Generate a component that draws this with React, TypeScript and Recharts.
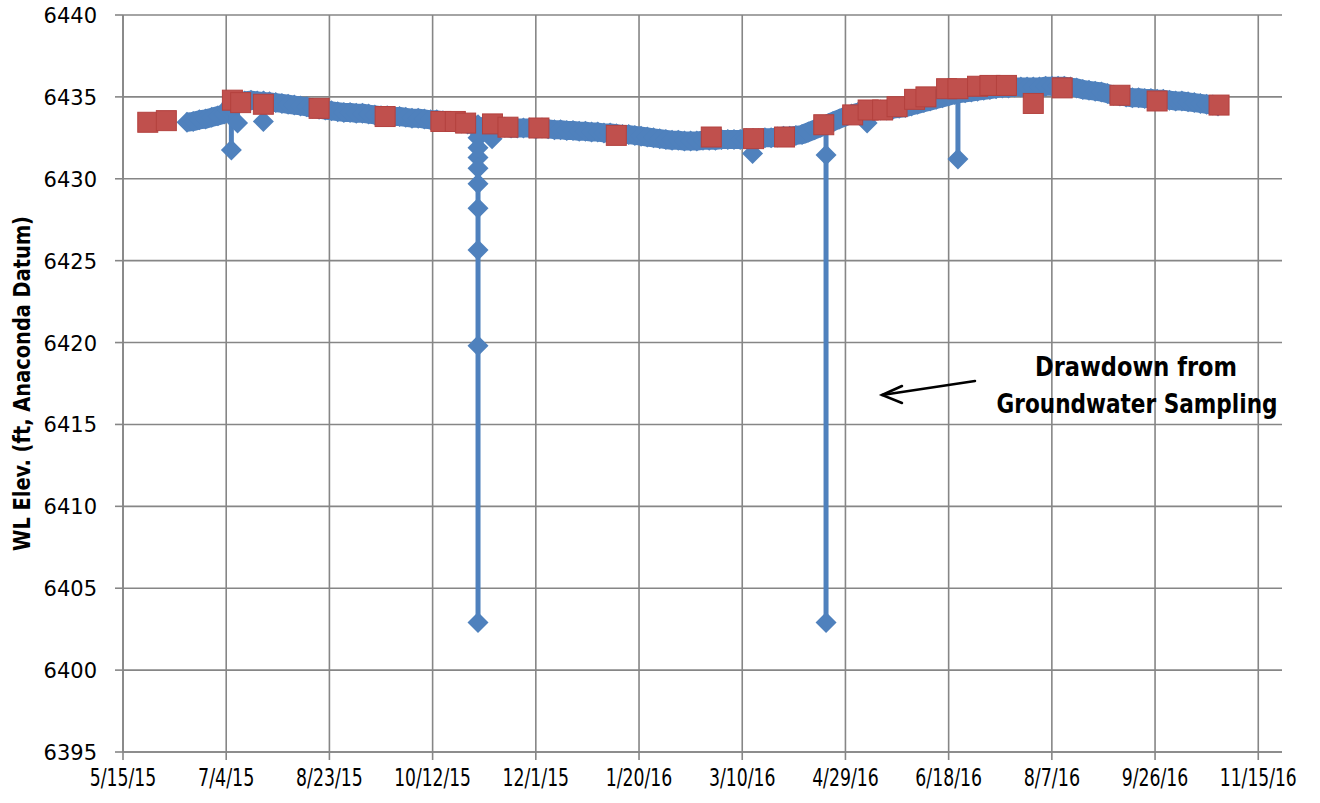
import React from 'react';
import { ScatterChart, Scatter, XAxis, YAxis, CartesianGrid } from 'recharts';

// x values are days since 5/15/15
const xTickDays = [0, 50, 100, 150, 200, 250, 300, 350, 400, 450, 500, 550];
const xTickLabels = ['5/15/15', '7/4/15', '8/23/15', '10/12/15', '12/1/15', '1/20/16', '3/10/16', '4/29/16', '6/18/16', '8/7/16', '9/26/16', '11/15/16'];
const yTicks = [6395, 6400, 6405, 6410, 6415, 6420, 6425, 6430, 6435, 6440];

// Transducer (logger) record, routine readings
const loggerDays = [
  31, 34, 37, 40, 43, 46, 49, 51, 53, 56, 59, 62, 65, 68.5, 71, 74, 77, 80, 83, 86, 89, 92, 95, 98,
  101, 104, 107, 110, 113, 116, 119, 122, 125, 128, 131, 134, 137, 140, 143, 146, 149, 152, 155, 158, 161, 164, 167, 170,
  172.3, 175, 179, 182, 185, 188, 191, 194, 197, 200,
  203, 206, 209, 212, 215, 218, 221, 224, 227, 230, 233, 236, 239, 242, 245, 248, 251, 254, 257, 260,
  263, 266, 269, 272, 275, 278, 281, 284, 287, 290, 293, 296, 299, 302, 305.5, 308, 311, 314, 317, 320,
  323, 326, 329, 332, 335, 338, 341, 344, 347, 350, 353, 356, 359, 361, 364, 367, 370,
  373, 376, 379, 382, 385, 388, 391, 394, 397, 400, 403, 405, 408, 411, 414, 417, 420, 423, 426, 429,
  432, 435, 438, 441, 444, 447, 450, 453, 456, 459, 462, 465, 468, 471, 474, 477, 480, 483, 486, 489, 492, 495, 498,
  501, 504, 507, 510, 513, 516, 519, 522, 525, 528, 530.5,
];
const loggerElev = [
  6433.45, 6433.5, 6433.6, 6433.65, 6433.75, 6433.85, 6433.95, 6434.2, 6434.6, 6434.7, 6434.75, 6434.8, 6434.75, 6434.7, 6434.7, 6434.65, 6434.6, 6434.55, 6434.5, 6434.45, 6434.4, 6434.3, 6434.25, 6434.2,
  6434.15, 6434.1, 6434.05, 6434.05, 6434.0, 6434.0, 6433.95, 6433.9, 6433.85, 6433.85, 6433.8, 6433.8, 6433.75, 6433.7, 6433.7, 6433.65, 6433.6, 6433.6, 6433.55, 6433.5, 6433.45, 6433.4, 6433.35, 6433.3,
  6433.0, 6433.2, 6433.2, 6433.15, 6433.15, 6433.1, 6433.1, 6433.1, 6433.1, 6433.05,
  6433.1, 6433.05, 6433.0, 6433.0, 6432.95, 6432.95, 6432.9, 6432.9, 6432.85, 6432.85, 6432.8, 6432.8, 6432.75, 6432.7, 6432.7, 6432.65, 6432.6, 6432.55, 6432.5, 6432.45,
  6432.4, 6432.35, 6432.35, 6432.3, 6432.3, 6432.3, 6432.35, 6432.35, 6432.35, 6432.4, 6432.4, 6432.4, 6432.4, 6432.45, 6432.45, 6432.45, 6432.5, 6432.5, 6432.55, 6432.6,
  6432.6, 6432.65, 6432.7, 6432.85, 6433.0, 6433.15, 6433.3, 6433.5, 6433.65, 6433.8, 6433.95, 6434.05, 6434.1, 6434.1, 6434.15, 6434.2, 6434.2,
  6434.25, 6434.3, 6434.35, 6434.45, 6434.55, 6434.65, 6434.75, 6434.85, 6434.95, 6435.05, 6435.15, 6435.2, 6435.25, 6435.3, 6435.35, 6435.4, 6435.45, 6435.5, 6435.55, 6435.55,
  6435.6, 6435.6, 6435.6, 6435.6, 6435.6, 6435.65, 6435.65, 6435.65, 6435.65, 6435.6, 6435.55, 6435.45, 6435.4, 6435.35, 6435.3, 6435.2, 6435.1, 6435.05, 6435.0, 6434.95, 6434.95, 6434.9, 6434.9,
  6434.85, 6434.85, 6434.8, 6434.75, 6434.75, 6434.7, 6434.65, 6434.6, 6434.55, 6434.5, 6434.45,
];

// Logger readings during drawdown / sampling events (event id, day, elevation)
const eventIds = [1, 1, 2, 2, 3, 3, 4, 4, 4, 4, 4, 4, 4, 4, 4, 4, 5, 5, 6, 6, 7, 7, 7, 8, 8, 9, 9];
const eventDays = [52.5, 52.5, 55.5, 55.5, 68, 68, 172, 172, 172, 172, 172, 172, 172, 172, 172, 172, 178.8, 178.8, 305, 305, 340.6, 340.6, 340.6, 360.5, 360.5, 404.5, 404.5];
const eventElev = [6434.3, 6431.75, 6434.7, 6433.4, 6434.75, 6433.5, 6433.3, 6432.5, 6431.9, 6431.3, 6430.65, 6429.7, 6428.2, 6425.65, 6419.8, 6402.9, 6433.2, 6432.45, 6432.45, 6431.55, 6433.2, 6431.45, 6402.9, 6434.1, 6433.4, 6435.2, 6431.2];

// Manual water-level measurements
const manualDays = [12, 21, 53, 57, 68, 95, 127, 154, 161, 166, 179, 186.5, 201.5, 239, 285, 305.5, 320.5, 339.5, 353.5, 361, 368, 375, 383.5, 389, 399, 404.5, 414, 420, 428, 441, 455, 483, 501, 531];
const manualElev = [6433.45, 6433.55, 6434.8, 6434.65, 6434.55, 6434.3, 6433.8, 6433.5, 6433.5, 6433.4, 6433.35, 6433.15, 6433.1, 6432.65, 6432.55, 6432.45, 6432.55, 6433.3, 6433.9, 6434.2, 6434.2, 6434.4, 6434.85, 6435.0, 6435.5, 6435.5, 6435.65, 6435.7, 6435.7, 6434.6, 6435.55, 6435.1, 6434.75, 6434.5];

const loggerData = loggerDays.map((d, i) => ({ x: d, y: loggerElev[i] }));
const manualData = manualDays.map((d, i) => ({ x: d, y: manualElev[i] }));
const eventGroups: { x: number; y: number }[][] = [];
eventIds.forEach((id, i) => {
  if (!eventGroups[id]) eventGroups[id] = [];
  eventGroups[id].push({ x: eventDays[i], y: eventElev[i] });
});
const events = eventGroups.filter(Boolean);

const BLUE = '#4F81BD';
const RED = '#C0504D';
const GRID = '#868686';
const NARROW = "'DejaVu Sans Condensed', 'DejaVu Sans'";

const Diamond = (props: any) => {
  const { cx, cy } = props;
  if (cx == null || cy == null) return null;
  const r = 10.5;
  return <polygon points={`${cx},${cy - r} ${cx + r},${cy} ${cx},${cy + r} ${cx - r},${cy}`} fill={BLUE} />;
};

const Square = (props: any) => {
  const { cx, cy } = props;
  if (cx == null || cy == null) return null;
  return <rect x={cx - 10} y={cy - 10} width={20} height={20} fill={RED} stroke="#B3413E" strokeWidth={1} />;
};

const labelWidth = (s: string) => {
  let w = 0;
  for (const ch of s) w += ch === '/' ? 7.8 : 10.2;
  return w;
};

const XTick = (props: any) => {
  const { x, y, payload } = props;
  const idx = xTickDays.indexOf(payload.value);
  const label = idx >= 0 ? xTickLabels[idx] : '';
  return (
    <text x={x} y={y + 18} textAnchor="middle" dominantBaseline="central" fontFamily={NARROW} fontSize={24} fill="#000"
      textLength={labelWidth(label)} lengthAdjust="spacingAndGlyphs">
      {label}
    </text>
  );
};

const YTick = (props: any) => {
  const { y, payload } = props;
  return (
    <text x={97} y={y + 1} textAnchor="end" dominantBaseline="central" fontFamily="'DejaVu Sans'" fontSize={21} fill="#000">
      {payload.value}
    </text>
  );
};

const YLabel = (props: any) => {
  const vb = props.viewBox || {};
  const cy = (vb.y || 0) + (vb.height || 0) / 2;
  const cx = 22;
  return (
    <text x={cx} y={cy} transform={`rotate(-90 ${cx} ${cy})`} textAnchor="middle" dominantBaseline="central"
      fontFamily={NARROW} fontWeight="bold" fontSize={23} fill="#000"
      textLength={335} lengthAdjust="spacingAndGlyphs">
      WL Elev. (ft, Anaconda Datum)
    </text>
  );
};

export default function App() {
  return (
    <div style={{ position: 'absolute', left: 0, top: 0, width: 1320, height: 803, background: '#fff' }}>
      <ScatterChart width={1320} height={803} margin={{ top: 15, right: 38, bottom: 0, left: 0 }}>
        <CartesianGrid stroke={GRID} strokeWidth={1.6} horizontalValues={yTicks} verticalValues={xTickDays} />
        <XAxis
          type="number"
          dataKey="x"
          domain={[0, 561.5]}
          ticks={xTickDays}
          allowDataOverflow
          height={51}
          tickSize={8}
          tickMargin={0}
          tick={<XTick />}
          axisLine={{ stroke: GRID, strokeWidth: 1.6 }}
          tickLine={{ stroke: GRID, strokeWidth: 1.6 }}
          interval={0}
        />
        <YAxis
          type="number"
          dataKey="y"
          domain={[6395, 6440]}
          ticks={yTicks}
          allowDataOverflow
          width={123}
          tickSize={8}
          tickMargin={0}
          tick={<YTick />}
          axisLine={{ stroke: GRID, strokeWidth: 1.6 }}
          tickLine={{ stroke: GRID, strokeWidth: 1.6 }}
          interval={0}
          label={<YLabel />}
        />
        <Scatter
          name="Transducer"
          data={loggerData}
          fill={BLUE}
          line={{ stroke: BLUE, strokeWidth: 19, strokeLinejoin: 'round' }}
          lineJointType="linear"
          shape={<Diamond />}
          isAnimationActive={false}
        />
        {events.map((ev, i) => (
          <Scatter
            key={`ev${i}`}
            name={`Sampling ${i + 1}`}
            data={ev}
            fill={BLUE}
            line={{ stroke: BLUE, strokeWidth: 5 }}
            lineJointType="linear"
            shape={<Diamond />}
            isAnimationActive={false}
          />
        ))}
        <Scatter
          name="Manual"
          data={manualData}
          fill={RED}
          shape={<Square />}
          isAnimationActive={false}
        />
      </ScatterChart>
      <svg width={1320} height={803} style={{ position: 'absolute', left: 0, top: 0, pointerEvents: 'none' }}>
        <g stroke="#000" strokeWidth={2.5} fill="none" strokeLinecap="round">
          <line x1={975} y1={381} x2={882} y2={395} />
          <polyline points="902,386 882,395 902,403" />
        </g>
        <text x={1136} y={367} textAnchor="middle" dominantBaseline="central" fontFamily={NARROW}
          fontWeight="bold" fontSize={26} fill="#000" textLength={202} lengthAdjust="spacingAndGlyphs">
          Drawdown from
        </text>
        <text x={1137} y={404} textAnchor="middle" dominantBaseline="central" fontFamily={NARROW}
          fontWeight="bold" fontSize={26} fill="#000" textLength={281} lengthAdjust="spacingAndGlyphs">
          Groundwater Sampling
        </text>
      </svg>
    </div>
  );
}
